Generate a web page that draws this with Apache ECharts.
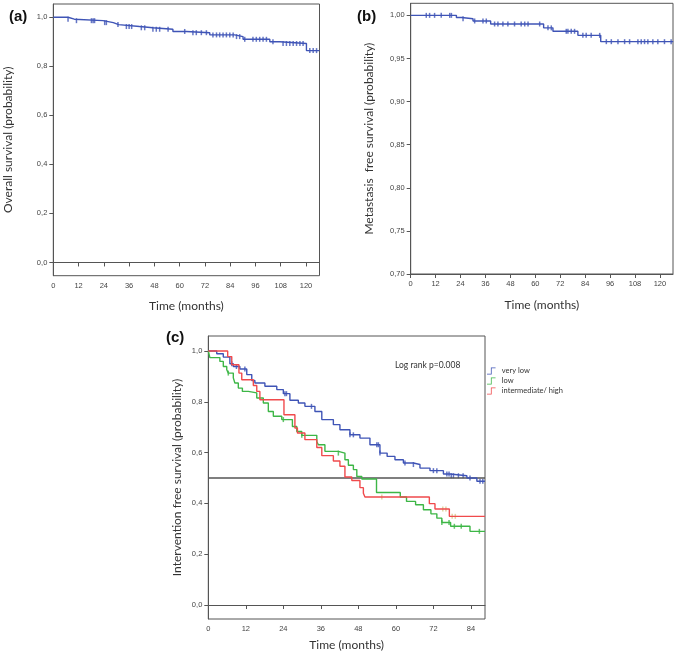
<!DOCTYPE html>
<html lang="en">
<head>
<meta charset="UTF-8">
<title>survival curves</title>
<style>
    html, body {margin: 0; padding: 0; background: #fff;}
    #main {width: 676px; height: 652px;}
</style>
</head>
<body>
<div id="main"></div>
<script src="https://cdn.jsdelivr.net/npm/echarts@6/dist/echarts.min.js"></script>
<script>
// (a) overall survival
var aTime = [0, 7, 10, 23.6, 28.5, 31, 41, 47.3, 56.8, 63.2, 74.3, 86.1, 90.1, 102.8, 107.5, 120.2, 126.4];
var aSurv = [1.0, 0.992, 0.986, 0.978, 0.970, 0.962, 0.957, 0.951, 0.942, 0.937, 0.928, 0.921, 0.910, 0.900, 0.893, 0.864, 0.864];
var aCens = [7, 11, 18.1, 18.9, 19.6, 24.4, 25.2, 30.7, 34.7, 36, 37.2, 41.8, 43.4, 47.3, 48.9, 50.5, 54.5, 62.4, 66.3, 67.9, 70.3, 72.7,
             75.8, 77.5, 79, 80.6, 82.2, 83.8, 85.4, 87, 88.5, 90.9, 94.8, 96.4, 98, 99.6, 101.2, 104.3, 109.1, 110.7, 112.3, 113.9,
             115.5, 117.1, 118.6, 121.8, 123.4, 125];

// (b) metastasis free survival
var bTime = [0, 22, 24.5, 30, 38.5, 64, 68.5, 80.5, 91.5, 126.4];
var bSurv = [1.0, 0.9975, 0.996, 0.9935, 0.990, 0.9855, 0.9815, 0.9768, 0.9695, 0.9695];
var bCens = [7.5, 9.1, 11.5, 14.7, 18.8, 19.6, 25.2, 30.8, 34.8, 36.4, 40.4, 42, 44.4, 46.8, 50, 53.2, 54.9, 56.5, 62.1, 66.1, 67.7,
             74.9, 75.7, 77.3, 78.9, 82.9, 84.5, 86.9, 91, 94.2, 96.6, 99.8, 103, 105.4, 109.4, 111, 112.6, 114.2, 116.6, 119, 122.2, 125.4];

// (c) intervention free survival by risk group
var vlTime = [0, 2.7, 4.8, 6.9, 8, 10.1, 12.3, 13.9, 14.9, 18.1, 21.9, 24, 26.1, 28.8, 30.9, 34.1, 36.3, 40, 42.1, 45.3, 48.5,
              51.7, 54.9, 57.2, 59.7, 62.4, 65.6, 67.7, 70.9, 75.2, 77.3, 82.7, 85.9, 88.5];
var vlSurv = [1.0, 0.989, 0.976, 0.95, 0.939, 0.929, 0.907, 0.884, 0.874, 0.861, 0.848, 0.832, 0.806, 0.795, 0.782, 0.762, 0.73,
              0.71, 0.69, 0.67, 0.657, 0.631, 0.598, 0.585, 0.572, 0.559, 0.553, 0.539, 0.529, 0.516, 0.509, 0.5, 0.487, 0.487];
var vlCens = [7.5, 9, 11.7, 24.5, 25, 33, 45.3, 46.4, 53.9, 54.4, 54.9, 62.9, 65.6, 72, 73.1, 76.3, 77, 77.7, 78.4, 80, 81.5, 83.7, 86.9, 87.8];

var lowTime = [0, 0.5, 3.7, 4.8, 5.9, 6.4, 8, 8.5, 9.6, 10.9, 12.8, 15.5, 17.6, 19.2, 20.8, 23.5, 26.9, 28.3, 29.9, 34.7,
               35.2, 37.3, 41.6, 43.7, 44.8, 46.4, 47.5, 49.1, 53.8, 61.4, 63.4, 66.3, 68.8, 71.2, 73.1, 74.7, 77.5, 83.7, 88.5];
var lowSurv = [1.0, 0.974, 0.959, 0.939, 0.926, 0.913, 0.894, 0.874, 0.854, 0.841, 0.835, 0.815, 0.795, 0.762, 0.743, 0.73, 0.703,
               0.683, 0.668, 0.644, 0.631, 0.605, 0.598, 0.572, 0.55, 0.533, 0.506, 0.496, 0.443, 0.425, 0.408, 0.395, 0.375, 0.359,
               0.342, 0.325, 0.31, 0.29, 0.29];
var lowCens = [6.4, 24, 29.9, 41.6, 74.7, 77, 78.7, 80.9, 86.7];

var hiTime = [0, 6.2, 7.5, 9.8, 10.7, 14.4, 15.5, 16.5, 24.2, 27.7, 28.5, 30.9, 34.7, 36.3, 40, 42.1, 43.7, 45.9, 48.5, 49.6,
              50.1, 70.7, 72.5, 77.1, 88.5];
var hiSurv = [1.0, 0.978, 0.946, 0.913, 0.887, 0.864, 0.841, 0.808, 0.749, 0.697, 0.677, 0.651, 0.62, 0.588, 0.567, 0.546, 0.504,
              0.49, 0.462, 0.44, 0.425, 0.399, 0.378, 0.349, 0.349];
var hiCens = [55.5, 75, 76, 78, 79];

var refTime = [0, 88.5];
var refSurv = [0.5, 0.5];

var monthTicks = [0, 12, 24, 36, 48, 60, 72, 84, 96, 108, 120];
var ticksA = [0, 0.2, 0.4, 0.6, 0.8, 1.0];
var ticksB = [0.70, 0.75, 0.80, 0.85, 0.90, 0.95, 1.00];
var groups = ['very low', 'low', 'intermediate/ high'];

var BLUE = '#3f54b6', GREEN = '#3db646', RED = '#f04a4c';
var AXIS = '#555';

function pairs(t, s) {
    return t.map(function (x, i) { return [x, s[i]]; });
}
// survival value at time x (step function)
function valueAt(t, s, x) {
    var v = s[0];
    for (var i = 0; i < t.length; i++) {
        if (t[i] <= x) v = s[i];
    }
    return v;
}
function censPoints(c, t, s) {
    return c.map(function (x) { return [x, valueAt(t, s, x)]; });
}

var labelFont = {fontFamily: 'Liberation Sans', fontSize: 7.5, color: '#444'};
var nameFont = {fontFamily: 'Lato', fontSize: 12, color: '#333'};

function xAxis(gi, max, ticks, gap) {
    return {
        type: 'value', gridIndex: gi, min: 0, max: max,
        name: 'Time (months)', nameLocation: 'middle', nameGap: gap, nameTextStyle: nameFont,
        axisLine: {lineStyle: {color: AXIS, width: 1}},
        axisTick: {customValues: ticks, length: 4, lineStyle: {color: AXIS}},
        axisLabel: Object.assign({customValues: ticks, margin: 6}, labelFont),
        splitLine: {show: false}
    };
}
function yAxis(gi, min, max, ticks, digits, name, gap) {
    return {
        type: 'value', gridIndex: gi, min: min, max: max,
        name: name, nameLocation: 'middle', nameGap: gap, nameTextStyle: nameFont,
        axisLine: {lineStyle: {color: AXIS, width: 1}},
        axisTick: {customValues: ticks, length: 4, lineStyle: {color: AXIS}},
        axisLabel: Object.assign({
            customValues: ticks, margin: 6,
            formatter: function (v) { return v.toFixed(digits).replace('.', ','); }
        }, labelFont),
        splitLine: {show: false}
    };
}
function curve(name, gi, t, s, color) {
    return {
        name: name, type: 'line', xAxisIndex: gi, yAxisIndex: gi, step: 'end',
        data: pairs(t, s), showSymbol: false, silent: true,
        lineStyle: {color: color, width: 1.4}, itemStyle: {color: color}
    };
}
function marks(gi, c, t, s, color) {
    return {
        type: 'scatter', xAxisIndex: gi, yAxisIndex: gi, silent: true,
        data: censPoints(c, t, s), symbol: 'rect', symbolSize: [1.5, 5],
        itemStyle: {color: color}
    };
}

var chart = echarts.init(document.getElementById('main'));
chart.setOption({
    animation: false,
    backgroundColor: '#fff',
    title: [
        {text: '(a)', left: 4, top: 4, textStyle: {fontFamily: 'Liberation Sans', fontSize: 15, fontWeight: 'bold', color: '#111'}},
        {text: '(b)', left: 352, top: 4, textStyle: {fontFamily: 'Liberation Sans', fontSize: 15, fontWeight: 'bold', color: '#111'}},
        {text: '(c)', left: 161, top: 325, textStyle: {fontFamily: 'Liberation Sans', fontSize: 15, fontWeight: 'bold', color: '#111'}},
        {text: 'Log rank p=0.008', left: 390, top: 356, textStyle: {fontFamily: 'Lato', fontSize: 8.5, fontWeight: 'normal', color: '#333'}}
    ],
    legend: {
        data: groups, orient: 'vertical', left: 487, top: 367, padding: 0,
        itemWidth: 9, itemHeight: 7, itemGap: 2,
        icon: 'path://M0,9L5,9L5,1L11,1L11,2L6,2L6,10L0,10Z',
        textStyle: {fontFamily: 'Lato', fontSize: 7.5, color: '#333', padding: [0, 0, 0, 1]}
    },
    grid: [
        {left: 53.3, top: 4, width: 266.2, height: 271.7, show: true, borderColor: AXIS, borderWidth: 1},
        {left: 410.7, top: 3.3, width: 262.3, height: 270.7, show: true, borderColor: AXIS, borderWidth: 1},
        {left: 208.3, top: 336, width: 276.7, height: 283, show: true, borderColor: AXIS, borderWidth: 1}
    ],
    xAxis: [
        xAxis(0, 126.4, monthTicks, 24),
        xAxis(1, 126.3, monthTicks, 25),
        xAxis(2, 88.5, monthTicks.slice(0, 8), 20)
    ],
    yAxis: [
        yAxis(0, -0.054, 1.054, ticksA, 1, 'Overall survival (probability)', 39),
        yAxis(1, 0.70, 1.014, ticksB, 2, 'Metastasis  free survival (probability)', 36),
        yAxis(2, -0.055, 1.059, ticksA, 1, 'Intervention free survival (probability)', 25)
    ],
    series: [
        curve('overall', 0, aTime, aSurv, BLUE),
        marks(0, aCens, aTime, aSurv, BLUE),
        curve('metastasis', 1, bTime, bSurv, BLUE),
        marks(1, bCens, bTime, bSurv, BLUE),
        {
            type: 'line', xAxisIndex: 2, yAxisIndex: 2, data: pairs(refTime, refSurv),
            showSymbol: false, silent: true, lineStyle: {color: '#555', width: 1.3}
        },
        curve(groups[0], 2, vlTime, vlSurv, BLUE),
        marks(2, vlCens, vlTime, vlSurv, BLUE),
        curve(groups[1], 2, lowTime, lowSurv, GREEN),
        marks(2, lowCens, lowTime, lowSurv, GREEN),
        curve(groups[2], 2, hiTime, hiSurv, RED),
        marks(2, hiCens, hiTime, hiSurv, '#d8c98c')
    ]
});
</script>
</body>
</html>
